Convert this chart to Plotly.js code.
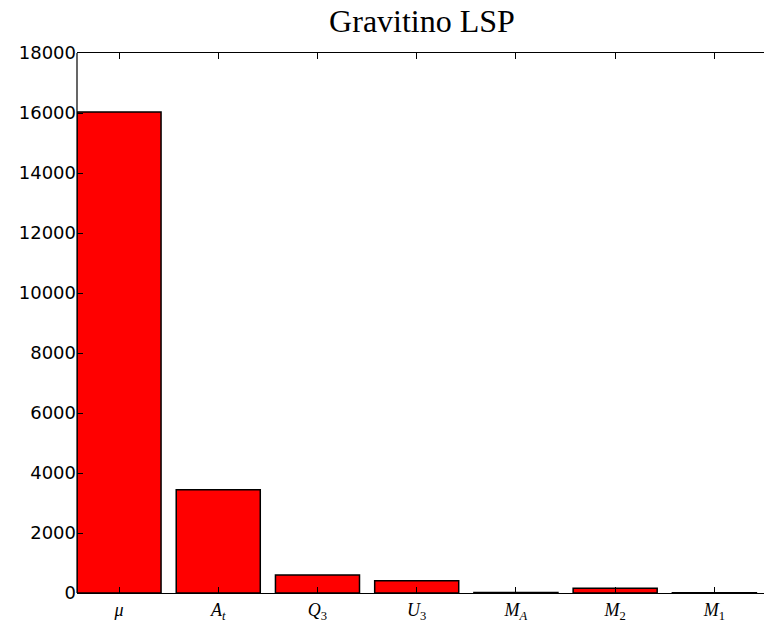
<!DOCTYPE html>
<html>
<head>
<meta charset="utf-8">
<script src="https://cdn.plot.ly/plotly-3.0.1.min.js"></script>
<style>
html,body{margin:0;padding:0;background:#fff;}
#chart{width:764px;height:624px;}
</style>
</head>
<body>
<div id="chart"></div>
<script>
const categories = ["<i>μ</i>", "<i>A</i><sub><i>t</i></sub>", "<i>Q</i><sub>3</sub>", "<i>U</i><sub>3</sub>", "<i>M</i><sub><i>A</i></sub>", "<i>M</i><sub>2</sub>", "<i>M</i><sub>1</sub>"];
const values = [16030, 3440, 600, 410, 15, 155, 10];
const yTicks = [0, 2000, 4000, 6000, 8000, 10000, 12000, 14000, 16000, 18000];

const trace = {
  type: "bar",
  x: categories,
  y: values,
  width: 0.847,
  marker: {color: "#ff0000", line: {color: "#000000", width: 1.5}},
  hoverinfo: "none"
};

const layout = {
  width: 764, height: 624,
  margin: {l: 77, r: 0, t: 53, b: 31},
  paper_bgcolor: "#ffffff", plot_bgcolor: "#ffffff",
  showlegend: false,
  title: {text: "Gravitino LSP", font: {family: "Liberation Serif", size: 32, color: "#000"},
          xref: "container", x: 422/764, xanchor: "center", yref: "container", y: 0.966, yanchor: "middle"},
  xaxis: {
    type: "category", range: [-0.4235, 6.5],
    showline: true, linecolor: "#000", linewidth: 1.2, mirror: "ticks",
    ticks: "inside", ticklen: 6, tickcolor: "#000", tickwidth: 1,
    showgrid: false, zeroline: false,
    tickfont: {family: "Liberation Serif", size: 18, color: "#000"}
  },
  yaxis: {
    range: [0, 18000], tickvals: yTicks, tickformat: "d",
    showline: false,
    ticks: "inside", ticklen: 6, tickcolor: "#000", tickwidth: 1,
    showgrid: false, zeroline: false,
    tickfont: {family: "DejaVu Sans", size: 18, color: "#000"}
  },
  shapes: [
    {type: "line", xref: "paper", yref: "paper", x0: 0, x1: 0, y0: 0, y1: 1,
     line: {color: "#000", width: 1.2}, layer: "above"},
    {type: "line", xref: "paper", yref: "paper", x0: 1, x1: 1, y0: 0.003, y1: 0.997,
     line: {color: "#ffffff", width: 4}, layer: "above"}
  ]
};

Plotly.newPlot("chart", [trace], layout, {displayModeBar: false, staticPlot: true});
</script>
</body>
</html>
